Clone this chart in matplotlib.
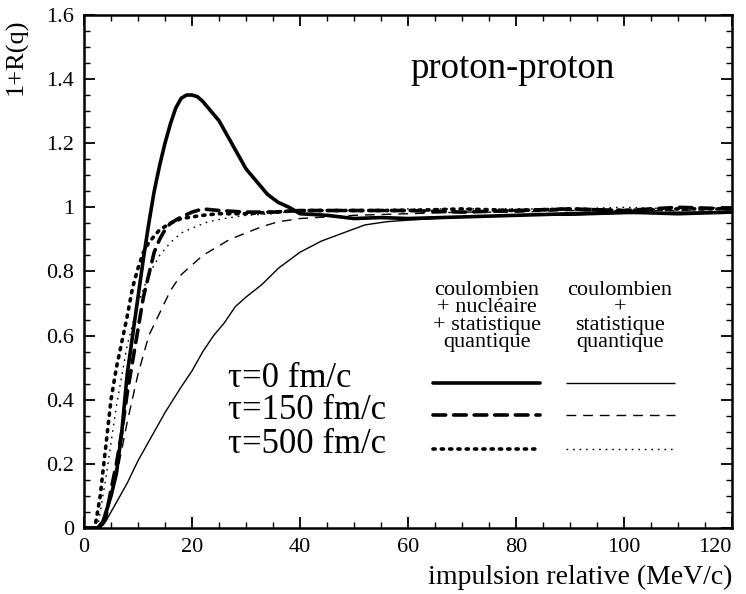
import matplotlib
matplotlib.use("Agg")
import matplotlib.pyplot as plt
from matplotlib.ticker import MultipleLocator

# ================= données =================
# coulombien + nucléaire + statistique quantique
x_nuc_0 = [0, 2.5, 3.5, 5, 6, 7, 8, 9, 10, 11, 12, 13, 14, 15, 16, 17, 18, 19, 20, 21, 22, 23,
           24, 25, 26, 28, 30, 32, 34, 36, 38, 40, 45, 50, 55, 60, 70, 80, 90, 100, 110, 120]
y_nuc_0 = [0, 0, 0.02, 0.1, 0.17, 0.3, 0.48, 0.6, 0.72, 0.84, 0.95, 1.05, 1.13, 1.2, 1.26, 1.31,
           1.34, 1.35, 1.35, 1.345, 1.33, 1.31, 1.29, 1.27, 1.24, 1.18, 1.12, 1.08, 1.04, 1.015,
           1.0, 0.98, 0.975, 0.965, 0.968, 0.965, 0.97, 0.975, 0.98, 0.985, 0.98, 0.985]

x_nuc_150 = [0, 3, 4, 5, 6, 7, 8, 9, 10, 11, 12, 13, 14, 15, 16, 18, 20, 22, 25, 30, 35, 40,
             50, 60, 70, 80, 90, 100, 110, 120]
y_nuc_150 = [0, 0, 0.03, 0.12, 0.2, 0.3, 0.42, 0.52, 0.62, 0.72, 0.79, 0.86, 0.9, 0.93, 0.95,
             0.97, 0.985, 0.995, 0.99, 0.985, 0.985, 0.99, 0.99, 0.99, 0.985, 0.99, 0.995, 0.99,
             1.0, 0.995]

x_nuc_500 = [0, 2, 3, 4, 5, 6, 7, 8, 9, 10, 11, 12, 13, 14, 15, 16, 18, 20, 22, 25, 30, 35, 40,
             50, 60, 70, 80, 90, 100, 110, 120]
y_nuc_500 = [0, 0, 0.1, 0.25, 0.4, 0.5, 0.58, 0.66, 0.75, 0.81, 0.86, 0.89, 0.91, 0.93, 0.94,
             0.95, 0.965, 0.97, 0.975, 0.98, 0.98, 0.985, 0.99, 0.99, 0.99, 0.995, 0.99, 0.995,
             0.99, 0.995, 0.995]

# coulombien + statistique quantique
x_coul_0 = [0, 3, 4, 6, 8, 10, 12, 15, 18, 20, 22, 24, 26, 28, 30, 33, 36, 40, 44, 48, 52, 56,
            60, 65, 70, 80, 90, 100, 110, 120]
y_coul_0 = [0, 0, 0.02, 0.08, 0.14, 0.21, 0.27, 0.36, 0.44, 0.49, 0.55, 0.6, 0.64, 0.69, 0.72,
            0.76, 0.81, 0.86, 0.895, 0.92, 0.945, 0.955, 0.96, 0.965, 0.97, 0.975, 0.975, 0.98,
            0.985, 0.985]

x_coul_150 = [0, 3, 4, 6, 8, 10, 12, 14, 16, 18, 20, 22, 24, 27, 30, 33, 36, 40, 45, 50, 60, 70,
              80, 90, 100, 110, 120]
y_coul_150 = [0, 0, 0.03, 0.16, 0.33, 0.48, 0.6, 0.67, 0.74, 0.79, 0.82, 0.85, 0.87, 0.9, 0.92,
              0.94, 0.955, 0.965, 0.97, 0.975, 0.98, 0.985, 0.985, 0.99, 0.99, 0.99, 0.995]

x_coul_500 = [0, 2.5, 4, 6, 8, 10, 12, 14, 16, 18, 20, 23, 26, 30, 35, 40, 50, 60, 70, 80, 90,
              100, 110, 120]
y_coul_500 = [0, 0, 0.15, 0.38, 0.57, 0.7, 0.79, 0.85, 0.89, 0.92, 0.935, 0.955, 0.965, 0.975,
              0.98, 0.99, 0.99, 0.995, 0.995, 0.995, 0.995, 1.0, 0.995, 1.0]

x_ticks = [0, 20, 40, 60, 80, 100, 120]
y_ticks = [0, 0.2, 0.4, 0.6, 0.8, 1.0, 1.2, 1.4, 1.6]
y_ticklabels = ["0", "0.2", "0.4", "0.6", "0.8", "1", "1.2", "1.4", "1.6"]

tau_labels = ["τ=0 fm/c", "τ=150 fm/c", "τ=500 fm/c"]
col_headers = ["coulombien\n+ nucléaire\n+ statistique\nquantique",
               "coulombien\n+\nstatistique\nquantique"]

# ================= styles =================
thick = dict(color="black", linewidth=2.6)
thin = dict(color="black", linewidth=1.0)
styles_thick = [(0, ()), (0, (3.5, 2.2)), (0, (0.6, 1.7))]
styles_thin = [(0, ()), (0, (7, 5)), (0, (1.2, 3.5))]

plt.rcParams["font.family"] = ["Liberation Serif", "DejaVu Serif"]

fig = plt.figure(figsize=(7.46, 5.94), dpi=100)
ax = fig.add_axes([0.1126, 0.111, 0.8686, 0.864])

nuc = [(x_nuc_0, y_nuc_0), (x_nuc_150, y_nuc_150), (x_nuc_500, y_nuc_500)]
coul = [(x_coul_0, y_coul_0), (x_coul_150, y_coul_150), (x_coul_500, y_coul_500)]

for (xs, ys), ls in zip(coul, styles_thin):
    ax.plot(xs, ys, linestyle=ls, **thin)
for (xs, ys), ls in zip(nuc, styles_thick):
    ax.plot(xs, ys, linestyle=ls, dash_capstyle="round", **thick)

# === légende faite à la main ===
rows_y = [0.283, 0.221, 0.154]
for ry, lab, ls_k, ls_t in zip(rows_y, tau_labels, styles_thick, styles_thin):
    ax.text(0.222, ry + 0.008, lab, transform=ax.transAxes, fontsize=25, va="center", ha="left")
    ax.plot([0.539, 0.704], [ry, ry], transform=ax.transAxes, linestyle=ls_k,
            dash_capstyle="round", **thick)
    ax.plot([0.744, 0.912], [ry, ry], transform=ax.transAxes, linestyle=ls_t, **thin)

ax.text(0.622, 0.482, col_headers[0], transform=ax.transAxes, fontsize=16,
        ha="center", va="top", linespacing=0.9, multialignment="center")
ax.text(0.827, 0.482, col_headers[1], transform=ax.transAxes, fontsize=16,
        ha="center", va="top", linespacing=0.9, multialignment="center")

ax.text(0.503, 0.895, "proton-proton", transform=ax.transAxes, fontsize=26.5,
        ha="left", va="center")

# === axes ===
ax.set_xlim(0, 120)
ax.set_ylim(0, 1.6)
ax.set_xticks(x_ticks, labels=[str(v) for v in x_ticks])
ax.xaxis.set_minor_locator(MultipleLocator(5))
ax.set_yticks(y_ticks, labels=y_ticklabels)
ax.yaxis.set_minor_locator(MultipleLocator(0.05))
ax.tick_params(which="both", direction="in", top=True, right=True, labelsize=16)
ax.tick_params(which="major", length=8, width=1.3, pad=7)
ax.tick_params(which="minor", length=4, width=1.0)
for sp in ax.spines.values():
    sp.set_linewidth(1.8)

# le label 120 est calé à droite pour rester dans l'image
for lab in ax.get_xticklabels():
    if lab.get_text() == "120":
        lab.set_horizontalalignment("right")

ax.set_xlabel("impulsion relative (MeV/c)", fontsize=20, loc="right", labelpad=6)
fig.text(0.022, 0.905, "1+R(q)", rotation=90, fontsize=19, ha="center", va="center")

fig.savefig("out.png", dpi=100)
